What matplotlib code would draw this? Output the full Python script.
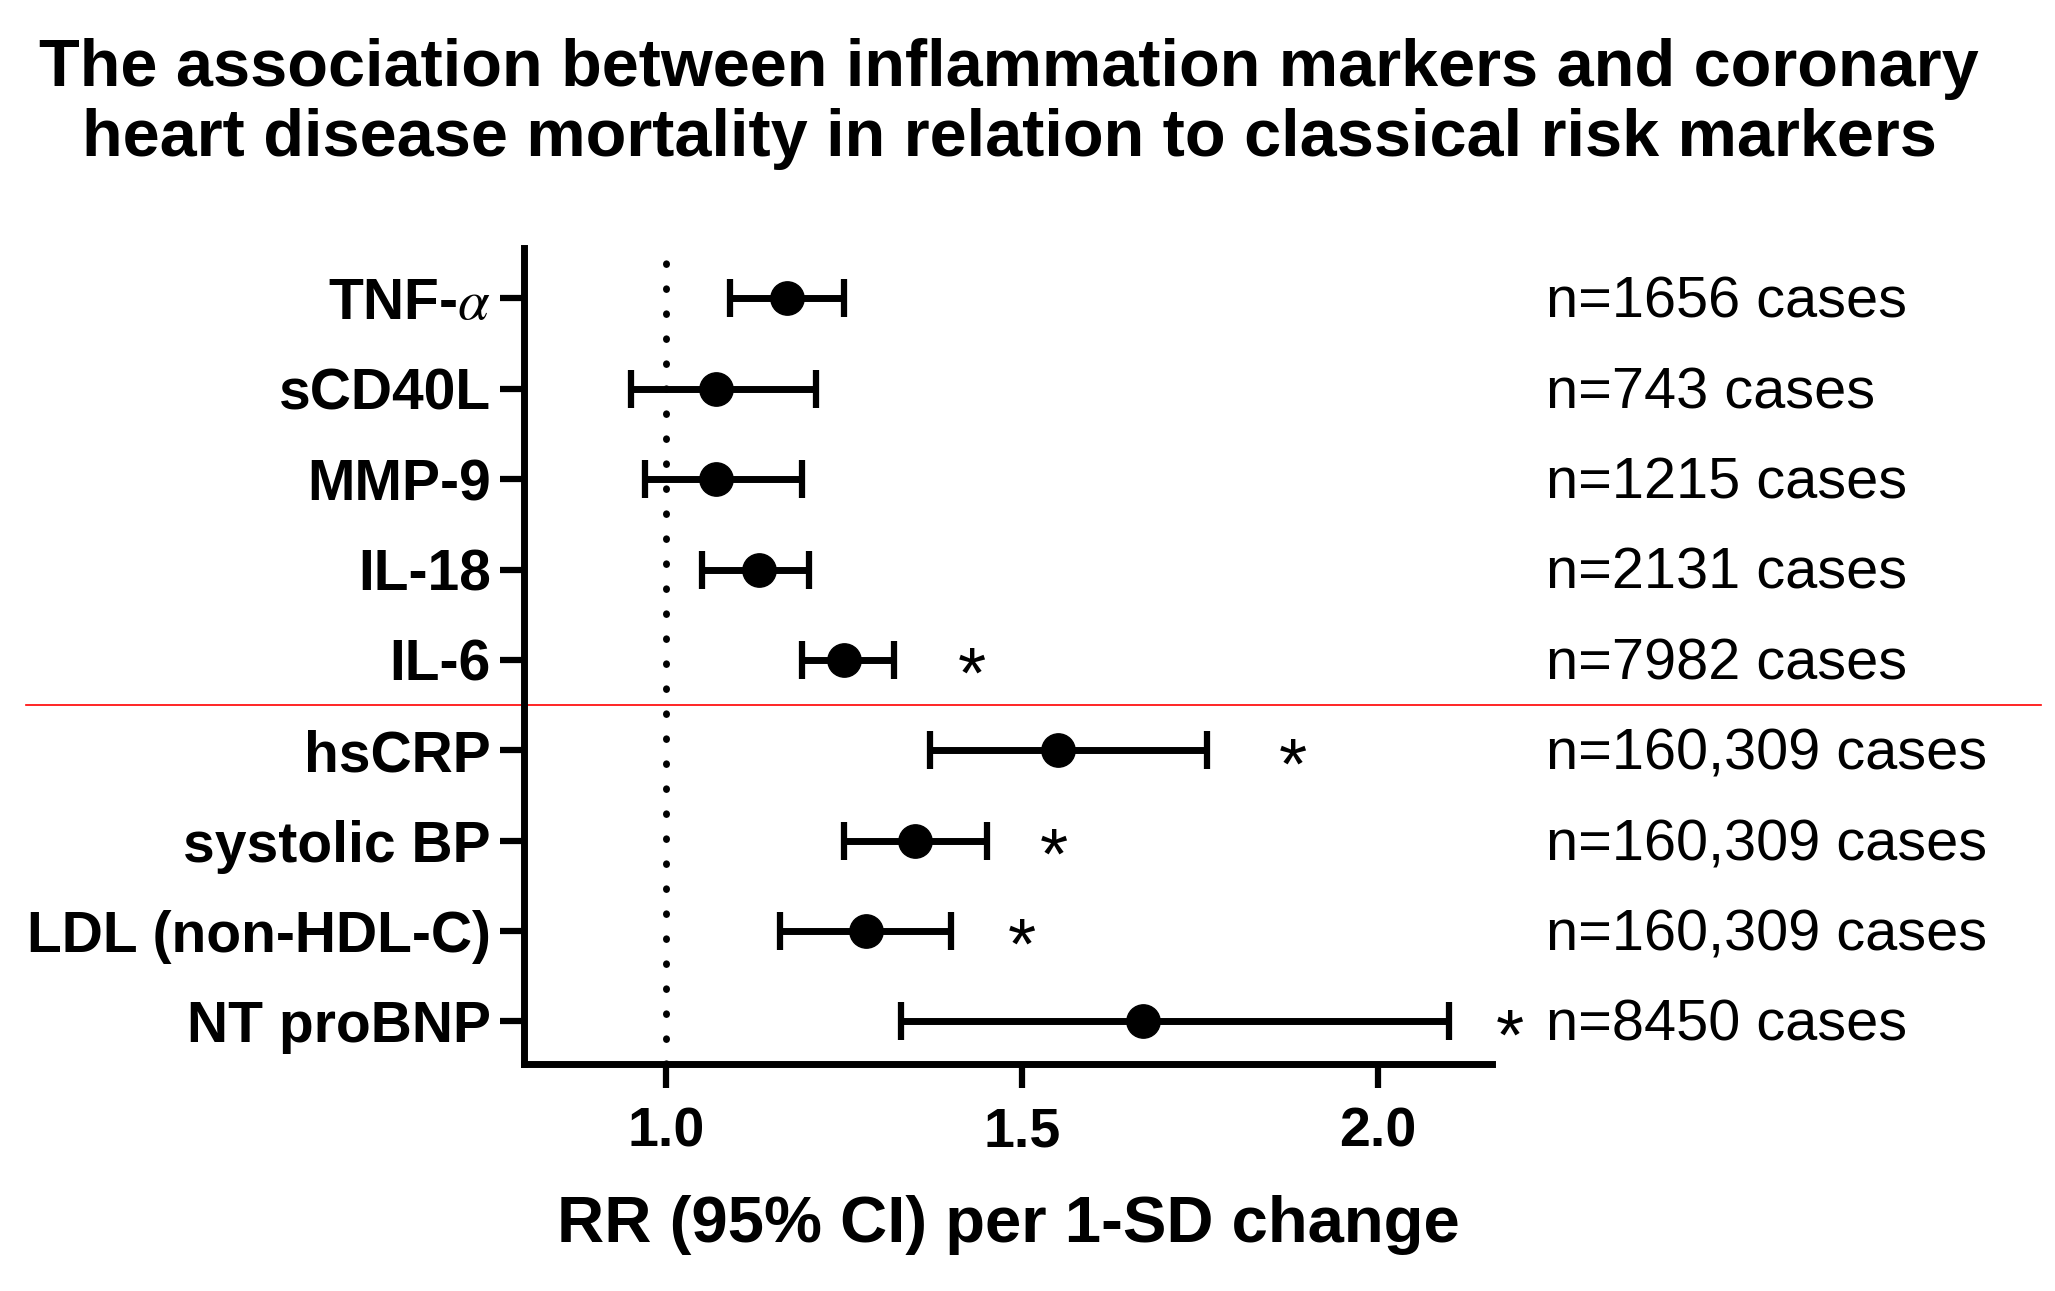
import numpy as np
import matplotlib
matplotlib.use("Agg")
import matplotlib.pyplot as plt
from matplotlib.transforms import blended_transform_factory

plt.rcParams['font.family'] = ['Liberation Sans', 'DejaVu Sans']
plt.rcParams['mathtext.fontset'] = 'stix'

# data
markers = ["TNF-$\\alpha$", "sCD40L", "MMP-9", "IL-18", "IL-6",
           "hsCRP", "systolic BP", "LDL (non-HDL-C)", "NT proBNP"]
rr = [1.17, 1.07, 1.07, 1.13, 1.25, 1.55, 1.35, 1.28, 1.67]
ci_low = [1.09, 0.95, 0.97, 1.05, 1.19, 1.37, 1.25, 1.16, 1.33]
ci_high = [1.25, 1.21, 1.19, 1.20, 1.32, 1.76, 1.45, 1.40, 2.10]
cases = ["n=1656 cases", "n=743 cases", "n=1215 cases", "n=2131 cases", "n=7982 cases",
         "n=160,309 cases", "n=160,309 cases", "n=160,309 cases", "n=8450 cases"]
signif = [False, False, False, False, True, True, True, True, True]
star_x = [None, None, None, None, 1.43, 1.88, 1.545, 1.50, 2.185]

title = ("The association between inflammation markers and coronary\n"
         "heart disease mortality in relation to classical risk markers")
xlabel = "RR (95% CI) per 1-SD change"
xticks = [1.0, 1.5, 2.0]

fig = plt.figure(figsize=(20.55, 12.91), dpi=100)
ax = fig.add_axes([0.255, 0.176, 0.471, 0.632])

y = np.arange(len(markers))
rr = np.array(rr)
err = [rr - np.array(ci_low), np.array(ci_high) - rr]

ax.axvline(1.0, color='black', lw=5, dashes=(0.1, 3.5), dash_capstyle='round', zorder=1)
ax.errorbar(rr, y, xerr=err, fmt='o', color='black', ms=24, lw=5,
            capsize=14, capthick=4.5, zorder=3)

for i in range(len(markers)):
    if signif[i]:
        ax.text(star_x[i], y[i] + 0.42, "*", ha='center', va='baseline',
                fontsize=52, color='black', clip_on=False)

# case counts on the right
trans = blended_transform_factory(fig.transFigure, ax.transData)
for i, c in enumerate(cases):
    ax.text(0.7525, y[i] + 0.215, c, transform=trans, ha='left', va='baseline',
            fontsize=41.5, color='black', clip_on=False)

# red separator between inflammation markers and classical ones
ax.plot([0.0127, 0.993], [4.5, 4.5], transform=trans, color='red', lw=1.2,
        clip_on=False, zorder=0)

ax.set_xlim(0.8, 2.16)
ax.set_ylim(8.47, -0.56)
ax.set_yticks(y)
ax.set_yticklabels(markers, fontsize=41, fontweight='bold')
ax.set_xticks(xticks)
ax.set_xticklabels([f"{t:.1f}" for t in xticks], fontsize=40, fontweight='bold')
ax.tick_params(axis='both', length=17, width=4.5, direction='out')
ax.tick_params(axis='y', pad=7)
ax.tick_params(axis='x', pad=14)
ax.set_xlabel(xlabel, fontsize=47, fontweight='bold', labelpad=26)

for s in ['top', 'right']:
    ax.spines[s].set_visible(False)
for s in ['left', 'bottom']:
    ax.spines[s].set_linewidth(5)

fig.text(0.491, 1 - 38 / 1291, title, ha='center', va='top', fontsize=48,
         fontweight='bold', linespacing=1.16)

fig.savefig("out.png", dpi=100)
